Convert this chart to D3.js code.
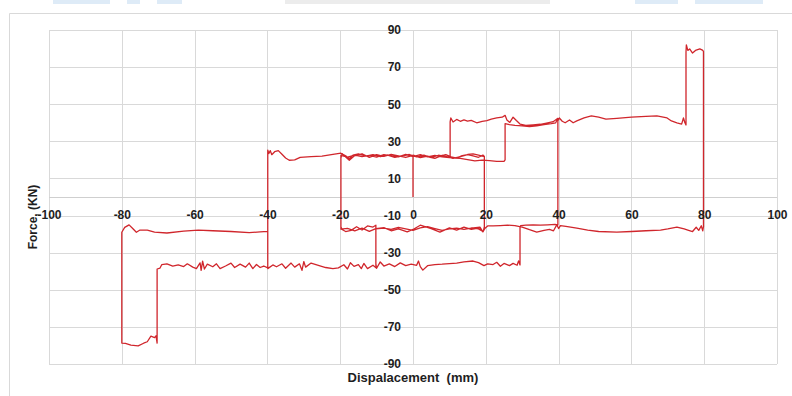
<!DOCTYPE html>
<html>
<head>
<meta charset="utf-8">
<script src="https://cdn.jsdelivr.net/npm/d3@7"></script>
<style>
  html, body { margin: 0; padding: 0; background: #fff; }
  text { font-family: "Liberation Sans", Arial, sans-serif; }
</style>
</head>
<body>
<div id="chart"></div>
<script>
// tick values
var xTicks = [-100, -80, -60, -40, -20, 0, 20, 40, 60, 80, 100];
var yTicks = [-90, -70, -50, -30, -10, 10, 30, 50, 70, 90];

// force-displacement record, [displacement mm, force kN], in the order it was drawn
var loopSmall = [
  [0,0],[0,22.5],
  [1.5,21.8],[3,22.6],[4.5,21.5],[6,20.8],[7.5,22],[9,22.8],[10.5,21.6],[12,21],[13.5,22.3],[15,22.8],[16.5,22.1],[18,21.4],[19.2,22.6],[19.6,21.8],
  [19.6,-16],[19.3,-18.5],
  [18,-16.8],[16,-17.5],[14,-16.2],[12,-17.8],[10,-16.6],[7.4,-18.9],[5,-17],[2,-15.2],[0,-17.5],[-1.6,-18.8],[-4,-17.2],[-6,-18.2],[-8,-16.5],[-10.2,-17],[-12,-18.5],[-14,-16.8],[-16,-18.2],[-18,-16.9],[-19.8,-17.3],
  [-19.8,21],[-19.5,23.4],
  [-18.5,21.5],[-17.5,19.8],[-16,22.3],[-14,23.3],[-12,21.4],[-10,22.8],[-8,21.9],[-6,23],[-4,22.2],[-2,21.3],[0,22.4],[2,21.2],[4,22],[6,20.8],[8,22.4],[10.2,21.2]
];

var stageTwo = [
  [10.2,40.5],[10.4,42.6],
  [11,40.4],[12,41.8],[13,40.8],[14,41.6],[15,40.9],[16,41.3],[17.5,40],[19,40.8],[20.3,41.2],[21.5,42],[23,42.6],[24.5,43],[25.3,44],
  [25.8,41.5],[26.6,40.2],[27.5,43],[28.4,41.2],[29.4,39.3],[31,38.6],[33,38.9],[35,39.2],[37,40],[38.5,40.6],[39.8,42.4],
  [39.2,40],[38,39.5],[36,39],[34,38.4],[32,38],[30,38.3],[28,38.6],[26.5,39],[25.3,39.5],
  [25.3,20],[25,19.2],
  [23,19.2],[21,19.6],[19,19.9],[17,19.5],[15,20.2],[13,20.8],[11.5,20.9],[10,21.2],
  [8,21.6],[6,22.4],[4,21.6],[2,22.8],[0,21.8],[-2,23],[-4,21.6],[-6,22.2],[-8,22.8],[-10,21.5],[-12,22.4],[-14,21.8],[-16,22.6],[-18,21.5],[-19.8,22.4],
  [-19.8,-16],[-19.5,-17.5],
  [-18.5,-18.6],[-17,-18],[-15.5,-16],[-14,-17.8],[-12.5,-15.6],[-11,-16.2],[-10.2,-15.2],
  [-10.2,-37],[-10,-38.4],
  [-9,-35],[-8,-37.2],[-6.5,-36],[-5,-37.5],[-3.5,-35.5],[-2,-37],[-0.5,-36.2],[1,-36.8],[1.5,-34.5],[2,-37.5],[2.7,-39.4],[4,-37],[6,-36.4],[8,-36.2],[10,-35.9],[12,-35.6],[14,-35],[16.5,-34.5],[18,-35.4],[19.5,-37],[20.5,-36],[22,-36.4],[23,-35.2],[24,-37.3],[25,-35.8],[26.5,-37],[27.5,-35.8],[28.6,-36.8],[29,-34.4],[29.4,-36.6],
  [29.4,-16.5],[29.6,-15.4],
  [31,-15.2],[33,-15],[35,-15.2],[37,-15],[39,-14.8],[39.8,-15]
];

var stageThree = [
  [39.8,41],[40.2,42.6],
  [41,40.8],[41.8,40],[43,41.5],[44,40],[45,41],[47,42.6],[49,43.7],[51,43],[53,42],[56,42.4],[60,43],[64,43.4],[67,43.7],[69.8,42.6],[71,41],[72.5,40],[73.8,39.3],[74.3,42.6],[74.7,40],[75,38.8],
  [75,78],[75.1,82],[75.5,79],[76,79.8],[76.8,77.6],[77.6,79],[78.8,79.8],[79.5,79.2],[79.8,78.5],
  [79.8,-16],[79.6,-18.2],[79.2,-15.5],[78.5,-18],[77.8,-16.3],[76.8,-18.6],[75.5,-17.8],[74.5,-17.2],[72.5,-16.2],[70,-17.2],[68,-17.8],[64,-18.2],[60,-18.6],[56,-18.9],[51,-18.6],[48,-17.8],[45,-16.8],[42,-15.8],[40.5,-15.4],
  [40,-17],[39.5,-15],[38.6,-18.2],[37.5,-17.4],[36,-18],[34,-18.9],[32,-17.6],[30,-16.2],[28,-15.4],[26,-15.2],[24,-15.4],[22,-15.6],[20.5,-15.6],[19.8,-16.8],[19.2,-18.8],[18.4,-16.2],[16,-16.8],[14,-17.5],[12,-16.8],[10,-17.2],[8,-18],[6,-17],[4,-16],[2,-16.6],[0,-18],[-2,-17.2],[-4,-16.4],[-6,-17.5],[-8,-16.8],[-10.2,-17.2],
  [-10.2,-36],[-10,-38.4],
  [-11,-36.8],[-12.5,-38.6],[-13.5,-35.8],[-14.2,-38.6],[-15,-36.4],[-16.2,-37.4],[-17.2,-35.4],[-18,-38.8],[-19,-36.5],[-20.5,-38.2],[-22,-38.6],[-24,-38],[-26,-36.8],[-28,-35.6],[-29.5,-37.8],[-30,-34.8],[-30.5,-39.5],[-31.2,-36],[-32.5,-37.8],[-33.5,-35.6],[-35,-38.4],[-36,-36],[-37.5,-37.6],[-38.5,-36.6],[-39.9,-38.6],
  [-39.9,-18.5]
];

var bigCycle = [
  [-42,-18.8],[-45,-19.2],[-50,-18.6],[-55,-18.2],[-59,-17.8],[-63,-18.4],[-67.6,-19.4],[-71,-18.9],[-73,-17.8],[-75,-17.8],[-76,-19],[-77,-17],[-78,-15],[-79.2,-16.4],[-80,-19],
  [-80,-78.7],
  [-79,-78.9],[-77.5,-79.8],[-75.5,-80.2],[-74,-78.8],[-73,-78],[-72,-75],[-71,-75.8],[-70.6,-74.8],[-70.3,-78.7],
  [-70.3,-38.8],
  [-69.5,-38.3],[-69,-36.4],[-67.6,-36],[-66,-37.2],[-64.5,-36.6],[-63,-37.5],[-62,-36],[-60.5,-37.8],[-59.5,-38.6],[-58.5,-35.5],[-58.2,-39.5],[-57.8,-34.6],[-57.3,-38.8],[-56.5,-36.2],[-55,-37.6],[-54,-36],[-53,-38.6],[-51.5,-37.2],[-50,-35.6],[-49,-38],[-47.5,-36.2],[-46,-37.8],[-45,-35.6],[-44,-38.6],[-43,-36.4],[-42,-38],[-41,-37.2],[-39.9,-38.2]
];

var finalReturn = [
  [-39.9,25.3],[-39.6,23.4],[-39.2,25],[-38.8,22.8],[-38,24.4],[-37,25],[-36,23],[-35,21],[-34,19.8],[-32.5,20],[-31,21.4],[-28,21.8],[-25,22],[-22,23],[-19.8,23.6],
  [-18.5,22.2],[-17.5,20.6],[-16.5,22.5],[-15,23.2],[-13,22],[-11,22.8],[-9,21.7],[-7,22.6],[-5,21.4],[-3,22.2],[-1,22.9],[1,21.6],[3,22.3],[5,21.2],[7,22.5],[9,21.8],[11,20.8],[13,21.8],[15,22.9],[16.5,23.2],[18,22.6],[19.6,21.8],
  [19.6,-17],[19.2,-18.6],[18,-17.2],[16,-16.6]
];

var record = loopSmall.concat(stageTwo, stageThree, bigCycle, finalReturn);

var w = 792, h = 396;
var svg = d3.select("#chart").append("svg")
  .attr("width", w)
  .attr("height", h);

// bits of the page above the chart
var strips = [[53,57,"#deebf7"],[127,13,"#deebf7"],[157,25,"#deebf7"],[285,265,"#ececec"],[635,43,"#deebf7"],[695,68,"#deebf7"]];
svg.selectAll("rect.strip").data(strips).enter().append("rect")
  .attr("class", "strip")
  .attr("x", function(d) { return d[0]; })
  .attr("y", 0)
  .attr("width", function(d) { return d[1]; })
  .attr("height", 4)
  .attr("fill", function(d) { return d[2]; });

// chart border
svg.append("path")
  .attr("d", "M9.5," + h + "V13.5H" + w)
  .attr("fill", "none")
  .attr("stroke", "#d9d9d9");

var x = d3.scaleLinear().domain([-100, 100]).range([49, 777]);
var y = d3.scaleLinear().domain([-90, 90]).range([364, 30]);

// gridlines
svg.append("g").selectAll("line").data(xTicks).enter().append("line")
  .attr("x1", function(d) { return Math.round(x(d)) + 0.5; })
  .attr("x2", function(d) { return Math.round(x(d)) + 0.5; })
  .attr("y1", y(90)).attr("y2", y(-90))
  .attr("stroke", "#d9d9d9");
svg.append("g").selectAll("line").data(yTicks).enter().append("line")
  .attr("y1", function(d) { return Math.round(y(d)) + 0.5; })
  .attr("y2", function(d) { return Math.round(y(d)) + 0.5; })
  .attr("x1", x(-100)).attr("x2", x(100))
  .attr("stroke", "#d9d9d9");
svg.append("line")
  .attr("x1", x(-100)).attr("x2", x(100))
  .attr("y1", Math.round(y(0)) + 0.5).attr("y2", Math.round(y(0)) + 0.5)
  .attr("stroke", "#cfcfcf");

// the curve
var line = d3.line()
  .x(function(d) { return x(d[0]); })
  .y(function(d) { return y(d[1]); });
svg.append("path")
  .datum(record)
  .attr("d", line)
  .attr("fill", "none")
  .attr("stroke", "#d0262c")
  .attr("stroke-width", 1.3)
  .attr("stroke-linejoin", "round");

// axes, plain hyphen for negatives
var fmt = function(d) { return String(d); };
var xAxis = svg.append("g")
  .attr("transform", "translate(0," + y(0) + ")")
  .call(d3.axisBottom(x).tickValues(xTicks).tickFormat(fmt).tickSize(0).tickPadding(13));
var yAxis = svg.append("g")
  .attr("transform", "translate(" + x(0) + ",0)")
  .call(d3.axisLeft(y).tickValues(yTicks).tickFormat(fmt).tickSize(0).tickPadding(12));
[xAxis, yAxis].forEach(function(g) {
  g.select(".domain").remove();
  g.selectAll("text")
    .attr("font-family", "Liberation Sans, Arial, sans-serif")
    .attr("font-size", 12)
    .attr("font-weight", "bold")
    .attr("fill", "#1e1e1e");
});

// axis titles
svg.append("text")
  .attr("x", 413)
  .attr("y", 382)
  .attr("text-anchor", "middle")
  .attr("font-size", 13)
  .attr("font-weight", "bold")
  .attr("fill", "#1e1e1e")
  .style("white-space", "pre")
  .text("Dispalacement  (mm)");

svg.append("text")
  .attr("transform", "translate(37,217) rotate(-90)")
  .attr("text-anchor", "middle")
  .attr("font-size", 12)
  .attr("font-weight", "bold")
  .attr("fill", "#1e1e1e")
  .text("Force, (KN)");
</script>
</body>
</html>
